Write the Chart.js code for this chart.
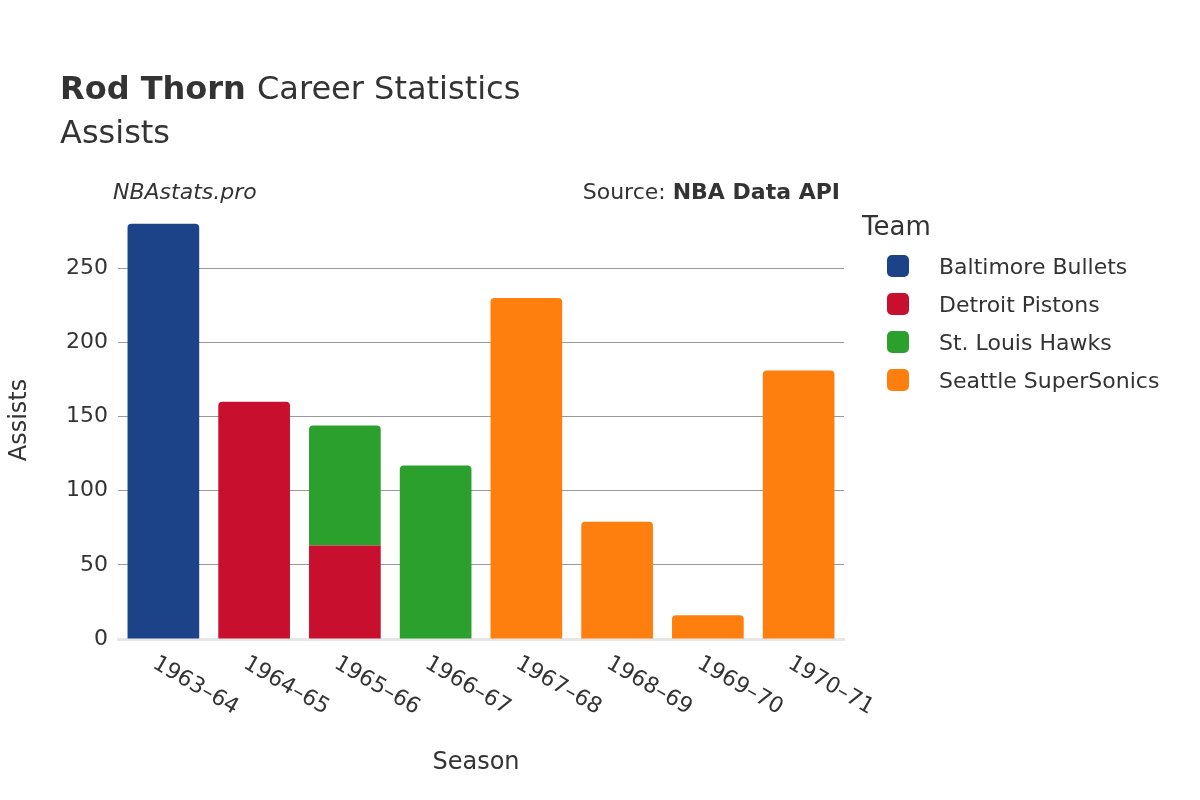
<!DOCTYPE html>
<html><head><meta charset="utf-8">
<script src="https://cdn.jsdelivr.net/npm/chart.js@4"></script>
<style>html,body{margin:0;background:#fff}</style></head>
<body><canvas id="c" width="1200" height="800" style="width:1200px;height:800px"></canvas>
<script>
const seasons=["1963–64","1964–65","1965–66","1966–67","1967–68","1968–69","1969–70","1970–71"];
const baltimore=[280,null,null,null,null,null,null,null];
const detroit=[null,160,63,null,null,null,null,null];
const hawks=[null,null,81,117,null,null,null,null];
const seattle=[null,null,null,null,230,79,16,181];
const yTicks=[0,50,100,150,200,250];
const teams=[["Baltimore Bullets","#1c4388"],["Detroit Pistons","#c8102e"],["St. Louis Hawks","#2ca02c"],["Seattle SuperSonics","#ff7f0e"]];
const F="'DejaVu Sans', sans-serif";
const txt='#333';
const deco={id:'deco',afterDraw(ch){
 const c=ch.ctx;c.save();c.fillStyle=txt;c.textBaseline='alphabetic';
 c.font="bold 32px "+F;c.fillText("Rod Thorn",60,99);const w=c.measureText("Rod Thorn ").width;
 c.font="32px "+F;c.fillText("Career Statistics",60+w,99);c.fillText("Assists",60,143);
 c.font="italic 22px "+F;c.fillText("NBAstats.pro",113,199);
 c.textAlign='right';c.font="bold 22px "+F;c.fillText("NBA Data API",840,199);
 const bw=c.measureText("NBA Data API").width;c.font="22px "+F;c.fillText("Source: ",840-bw,199);
 c.textAlign='left';c.font="26px "+F;c.fillText("Team",862,235);
 c.font="22px "+F;
 teams.forEach((t,i)=>{const y=266+i*38;c.fillStyle=t[1];c.beginPath();c.roundRect(887,y-11,22,22,5);c.fill();c.fillStyle=txt;c.fillText(t[0],939,y+8);});
 c.textAlign='center';c.font="24px "+F;c.fillText("Season",476,769);
 c.save();c.translate(26,420);c.rotate(-Math.PI/2);c.fillText("Assists",0,0);c.restore();
 const xs=ch.scales.x;c.font="22px "+F;c.textAlign='left';
 seasons.forEach((s,i)=>{c.save();c.translate(xs.getPixelForValue(i)-8,660);c.rotate(Math.PI/6);c.fillText(s,0,8);c.restore();});
 c.restore();}};
const ds=(l,d,col)=>({label:l,data:d,backgroundColor:col,stack:'s',barPercentage:0.79,categoryPercentage:1,
 borderRadius:ctx=>(l==="Detroit Pistons"&&ctx.dataIndex===2)?0:4,borderSkipped:'bottom'});
new Chart(document.getElementById('c'),{type:'bar',
 data:{labels:seasons,datasets:[ds(teams[0][0],baltimore,teams[0][1]),ds(teams[1][0],detroit,teams[1][1]),ds(teams[2][0],hawks,teams[2][1]),ds(teams[3][0],seattle,teams[3][1])]},
 options:{responsive:false,animation:false,maintainAspectRatio:false,devicePixelRatio:1,
  layout:{padding:{left:0,top:209,right:356,bottom:161}},
  plugins:{legend:{display:false},tooltip:{enabled:false}},
  scales:{x:{stacked:true,ticks:{display:false},grid:{display:false},border:{color:'#e6e6e6',width:3},afterFit(s){s.height=0;}},
   y:{stacked:true,min:0,max:290,afterBuildTicks(s){s.ticks=yTicks.map(v=>({value:v}));},
    ticks:{font:{size:22,family:F},color:txt,padding:10},
    grid:{color:ctx=>ctx.tick&&ctx.tick.value===0?'rgba(0,0,0,0)':'#999',drawTicks:false},border:{display:false},
    afterFit(s){s.width=118;}}}},
 plugins:[deco]});
</script></body></html>
